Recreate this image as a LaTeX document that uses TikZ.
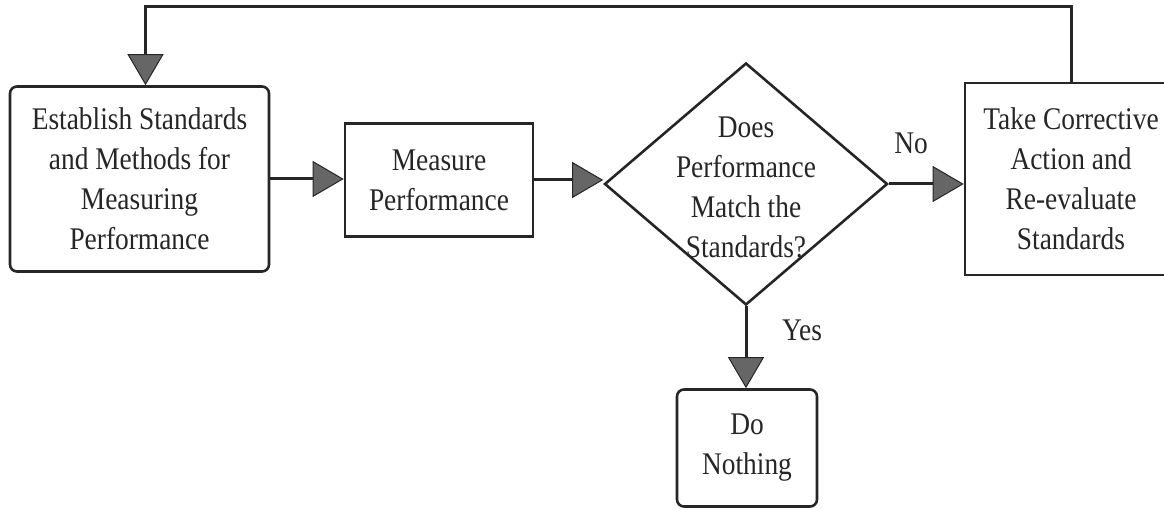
\documentclass[tikz,border=0pt]{standalone}
\usepackage{fontspec}
\setmainfont{Liberation Serif}[FakeStretch=0.87]
\usetikzlibrary{arrows.meta,shapes.geometric}
\begin{document}
\begin{tikzpicture}[x=1pt,y=-1pt,
  txt/.style={align=center, font=\fontsize{31.5}{40}\selectfont, text=black!85},
  box/.style={txt, draw=black!85, line width=2.6pt, inner sep=0pt},
  link/.style={draw=black!85, line width=3pt, -{Triangle[length=31pt,width=36pt,fill=black!60,line width=1pt]}},
  lbl/.style={font=\fontsize{31.5}{34}\selectfont, text=black!85}]
\useasboundingbox (0,0) rectangle (1164,510);
\clip (0,0) rectangle (1164,510);
\node[box, rounded corners=7pt, minimum width=259pt, minimum height=185pt] (est) at (139.5,179)
  {Establish Standards\\and Methods for\\Measuring\\Performance};
\node[box, minimum width=188pt, minimum height=113pt] (meas) at (439,180)
  {Measure\\Performance};
\node[draw=black!85, line width=2.6pt, diamond, minimum width=283pt, minimum height=242pt, inner sep=0pt] (dec) at (746,184) {};
\node[txt] (dectext) at (746,187) {Does\\Performance\\Match the\\Standards?};
\node[box, minimum width=212pt, minimum height=192pt] (fix) at (1071,179)
  {Take Corrective\\Action and\\Re-evaluate\\Standards};
\node[box, rounded corners=7pt, minimum width=140pt, minimum height=117pt] (done) at (747,448)
  {Do\\Nothing};
\node[lbl] (no) at (911,143) {No};
\node[lbl] (yes) at (802,330) {Yes};
\coordinate (top) at (600,7);
\draw[link] (est.east) -- (est.east -| meas.west);
\draw[link] (meas.east) -- (meas.east -| dec.west);
\draw[link] (dec.east) -- (dec.east -| fix.west);
\draw[link] (dec.south) -- (dec.south |- done.north);
\draw[link] (fix.north) |- (top) -| ([xshift=6pt]est.north);
\end{tikzpicture}
\end{document}
